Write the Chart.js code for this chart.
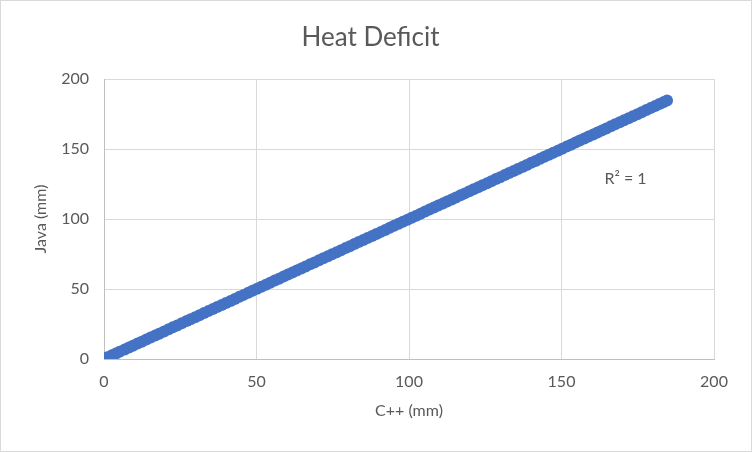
<!DOCTYPE html>
<html lang="en">
<head>
    <meta charset="UTF-8">
    <title>Heat Deficit</title>
    <script src="https://cdn.jsdelivr.net/npm/chart.js"></script>
    <style>
        html, body { margin: 0; padding: 0; background: #fff; }
        #wrap { width: 752px; height: 452px; }
    </style>
</head>
<body>
    <div id="wrap"><canvas id="heatChart" width="752" height="452"></canvas></div>
    <script>
        // C++ vs Java heat deficit (mm)
        const cppMm = [0, 0.3, 1.2, 2.6, 3.9, 5.1, 6.8, 8.2, 9.5, 11.0, 12.4, 13.9, 15.3, 16.8, 18.1, 19.7,
            21.2, 22.6, 24.0, 25.5, 27.1, 28.4, 29.9, 31.3, 32.8, 34.2, 35.7, 37.1, 38.6, 40.0, 41.5, 42.9,
            44.4, 45.8, 47.3, 48.7, 50.2, 51.6, 53.1, 54.5, 56.0, 57.4, 58.9, 60.3, 61.8, 63.2, 64.7, 66.1,
            67.6, 69.0, 70.5, 71.9, 73.4, 74.8, 76.3, 77.7, 79.2, 80.6, 82.1, 83.5, 85.0, 86.4, 87.9, 89.3,
            90.8, 92.2, 93.7, 95.1, 96.6, 98.0, 99.5, 100.9, 102.4, 103.8, 105.3, 106.7, 108.2, 109.6, 111.1,
            112.5, 114.0, 115.4, 116.9, 118.3, 119.8, 121.2, 122.7, 124.1, 125.6, 127.0, 128.5, 129.9, 131.4,
            132.8, 134.3, 135.7, 137.2, 138.6, 140.1, 141.5, 143.0, 144.4, 145.9, 147.3, 148.8, 150.2, 151.7,
            153.1, 154.6, 156.0, 157.5, 158.9, 160.4, 161.8, 163.3, 164.7, 166.2, 167.6, 169.1, 170.5, 172.0,
            173.4, 174.9, 176.3, 177.8, 179.2, 180.7, 182.1, 183.4, 184.6];
        const javaMm = [0, 0.3, 1.2, 2.6, 3.9, 5.1, 6.8, 8.2, 9.5, 11.0, 12.4, 13.9, 15.3, 16.8, 18.1, 19.7,
            21.2, 22.6, 24.0, 25.5, 27.1, 28.4, 29.9, 31.3, 32.8, 34.2, 35.7, 37.1, 38.6, 40.0, 41.5, 42.9,
            44.4, 45.8, 47.3, 48.7, 50.2, 51.6, 53.1, 54.5, 56.0, 57.4, 58.9, 60.3, 61.8, 63.2, 64.7, 66.1,
            67.6, 69.0, 70.5, 71.9, 73.4, 74.8, 76.3, 77.7, 79.2, 80.6, 82.1, 83.5, 85.0, 86.4, 87.9, 89.3,
            90.8, 92.2, 93.7, 95.1, 96.6, 98.0, 99.5, 100.9, 102.4, 103.8, 105.3, 106.7, 108.2, 109.6, 111.1,
            112.5, 114.0, 115.4, 116.9, 118.3, 119.8, 121.2, 122.7, 124.1, 125.6, 127.0, 128.5, 129.9, 131.4,
            132.8, 134.3, 135.7, 137.2, 138.6, 140.1, 141.5, 143.0, 144.4, 145.9, 147.3, 148.8, 150.2, 151.7,
            153.1, 154.6, 156.0, 157.5, 158.9, 160.4, 161.8, 163.3, 164.7, 166.2, 167.6, 169.1, 170.5, 172.0,
            173.4, 174.9, 176.3, 177.8, 179.2, 180.7, 182.1, 183.4, 184.6];
        const xTicks = [0, 50, 100, 150, 200];
        const yTicks = [0, 50, 100, 150, 200];
        const rSquaredLabel = 'R² = 1';

        const points = cppMm.map((x, i) => ({ x: x, y: javaMm[i] }));

        const grey = '#595959';
        const font = 'Lato, "Open Sans", sans-serif';

        const extras = {
            id: 'extras',
            afterDatasetsDraw(chart) {
                const ctx = chart.ctx;
                const xs = chart.scales.x, ys = chart.scales.y;
                ctx.save();
                ctx.fillStyle = grey;
                ctx.font = '16px ' + font;
                ctx.textAlign = 'center';
                ctx.textBaseline = 'middle';
                ctx.fillText(rSquaredLabel, xs.getPixelForValue(171), ys.getPixelForValue(129));
                ctx.restore();
            },
            afterDraw(chart) {
                const ctx = chart.ctx;
                ctx.save();
                ctx.strokeStyle = '#d9d9d9';
                ctx.lineWidth = 1;
                ctx.strokeRect(0.5, 0.5, chart.width - 1, chart.height - 1);
                ctx.restore();
            }
        };

        new Chart(document.getElementById('heatChart'), {
            type: 'scatter',
            data: {
                datasets: [{
                    label: 'Heat Deficit',
                    data: points,
                    backgroundColor: '#4472c4',
                    borderWidth: 0,
                    pointRadius: 6,
                    pointHoverRadius: 6
                }]
            },
            options: {
                responsive: false,
                animation: false,
                events: [],
                layout: { padding: { left: 27, right: 38, top: 10, bottom: 27.4 } },
                plugins: {
                    legend: { display: false },
                    tooltip: { enabled: false },
                    title: {
                        display: true,
                        text: 'Heat Deficit',
                        color: grey,
                        font: { family: font, size: 26, weight: 'normal' },
                        padding: { top: 12.4, bottom: 25.4 }
                    }
                },
                scales: {
                    x: {
                        type: 'linear',
                        min: 0, max: 200,
                        afterBuildTicks: s => { s.ticks = xTicks.map(v => ({ value: v })); },
                        afterFit: s => { s.height = 65.6; },
                        grid: { color: '#d9d9d9', drawTicks: false },
                        border: { color: '#bfbfbf' },
                        ticks: { color: grey, padding: 13.4, font: { family: font, size: 16 } },
                        title: { display: true, text: 'C++ (mm)', color: grey, padding: { top: 4, bottom: 4 },
                                 font: { family: font, size: 16 } }
                    },
                    y: {
                        type: 'linear',
                        min: 0, max: 200,
                        afterBuildTicks: s => { s.ticks = yTicks.map(v => ({ value: v })); },
                        afterFit: s => { s.width = 77; },
                        grid: { color: '#d9d9d9', drawTicks: false },
                        border: { color: '#bfbfbf' },
                        ticks: { color: grey, padding: 15, font: { family: font, size: 16 } },
                        title: { display: true, text: 'Java (mm)', color: grey,
                                 font: { family: font, size: 16 } }
                    }
                }
            },
            plugins: [extras]
        });
    </script>
</body>
</html>
